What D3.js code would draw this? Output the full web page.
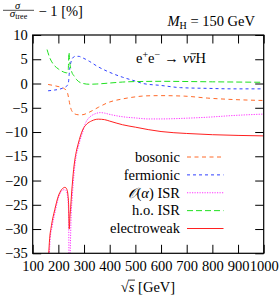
<!DOCTYPE html>
<html>
<head>
<meta charset="utf-8">
<script src="https://cdn.jsdelivr.net/npm/d3@7"></script>
<style>
  body { margin: 0; background: #fff; }
  svg { display: block; font-family: "Liberation Serif", "DejaVu Serif", serif; }
</style>
</head>
<body>
<svg id="chart" width="279" height="296"></svg>
<script>
// sqrt(s) in GeV, correction in percent
var sBosonic  = [160, 185, 205, 220, 230, 236, 240, 245, 252, 265, 280, 292, 317, 356, 395, 448, 500, 540, 600, 690, 780, 880, 1000];
var bosonic   = [-0.2, -0.45, -0.7, -0.95, -1.4, -2.0, -3.0, -4.4, -5.6, -6.3, -6.45, -6.45, -6.0, -4.9, -3.9, -3.2, -2.75, -2.55, -2.5, -2.6, -3.0, -3.3, -3.5];

var sFermionic = [160, 185, 206, 220, 228, 236, 240, 242, 245, 249, 255, 265, 280, 290, 320, 350, 400, 450, 500, 530, 600, 675, 780, 880, 1000];
var fermionic  = [-1.5, -1.35, -1.15, -0.9, -0.7, -0.3, 0.5, 1.8, 3.3, 4.4, 5.2, 5.6, 5.6, 5.4, 4.6, 3.6, 2.3, 1.3, 0.5, 0.0, -0.4, -0.85, -1.0, -1.1, -1.1];

var sIsr1 = [162, 168, 175, 188, 200, 212, 220, 226, 232, 237, 240, 242, 243.5, 246, 250, 254, 258, 264, 270, 278, 284, 296, 304, 317, 330, 345, 363, 380, 395, 450, 500, 550, 600, 650, 700, 780, 880, 1000];
var isr1  = [-40, -32, -29.7, -26.3, -23.6, -22.2, -21.9, -21.9, -22.3, -23.8, -27, -40, -40, -35, -27, -23.5, -20.5, -17, -14.8, -13, -11.8, -9.8, -8.4, -7.2, -6.6, -6.2, -6.0, -6.1, -6.3, -6.85, -7.1, -7.3, -7.3, -7.25, -7.15, -6.95, -6.6, -6.3];

var sIsrHo = [156, 165, 180, 200, 219, 232, 238, 241.5, 244, 248, 252, 262, 271, 285, 297, 320, 350, 400, 450, 500, 600, 800, 1000];
var isrHo  = [7.0, 5.5, 4.0, 3.0, 2.4, 2.2, 2.5, 6.4, 4.5, 3.2, 2.4, 1.5, 0.8, 0.2, 0.0, -0.15, -0.1, 0.1, 0.3, 0.4, 0.45, 0.35, 0.25];

var sEw = [158, 166, 173, 186, 200, 212, 220, 226, 232, 237, 240, 242.5, 245, 248, 251, 254, 258, 264, 270, 278, 286, 296, 310, 330, 356, 380, 400, 450, 500, 550, 600, 700, 800, 900, 1000];
var ew  = [-40, -32, -29.3, -26, -23.2, -21.9, -21.5, -21.4, -21.7, -22.8, -25, -30, -27.5, -25.5, -23, -21, -18.5, -15.8, -14, -12.3, -10.8, -9.4, -8.4, -7.7, -7.35, -7.45, -7.75, -8.5, -9.0, -9.5, -9.9, -10.3, -10.55, -10.7, -10.8];

var legendLabels = ["bosonic", "fermionic", "O(α) ISR", "h.o. ISR", "electroweak"];
var xTicks = [100, 200, 300, 400, 500, 600, 700, 800, 900, 1000];
var yTicks = [10, 5, 0, -5, -10, -15, -20, -25, -30, -35];

var series = [
  {s: sBosonic,  v: bosonic,   color: "#ff6a2a", dash: "4,3.5"},
  {s: sFermionic, v: fermionic, color: "#3040ff", dash: "3,3"},
  {s: sIsr1,     v: isr1,      color: "#ff30ff", dash: "1.2,1.3"},
  {s: sIsrHo,    v: isrHo,     color: "#20e020", dash: "6,3"},
  {s: sEw,       v: ew,        color: "#ff2020", dash: null}
];

var fs = 14.5;
var pLeft = 32.7, pRight = 263.7, pTop = 35, pBottom = 253.3;
var svg = d3.select('#chart');

var x = d3.scaleLinear().domain([100, 1000]).range([pLeft, pRight]);
var y = d3.scaleLinear().domain([-35, 10]).range([pBottom, pTop]);

svg.append('clipPath').attr('id', 'plotclip')
  .append('rect')
    .attr('x', pLeft).attr('y', pTop)
    .attr('width', pRight - pLeft).attr('height', pBottom - pTop);

// ticks point inward on all four sides
svg.append('g')
    .attr('transform', 'translate(0,' + pBottom + ')')
    .call(d3.axisBottom(x).tickValues(xTicks).tickSizeInner(-8.5).tickSizeOuter(0).tickFormat(d3.format('d')))
    .call(g => g.selectAll('text').attr('y', 7.5).attr('dy', '0.71em'));
svg.append('g')
    .attr('transform', 'translate(0,' + pTop + ')')
    .call(d3.axisTop(x).tickValues(xTicks).tickSizeInner(-8.5).tickSizeOuter(0).tickFormat(''));
svg.append('g')
    .attr('transform', 'translate(' + pLeft + ',0)')
    .call(d3.axisLeft(y).tickValues(yTicks).tickSizeInner(-8.5).tickSizeOuter(0))
    .call(g => g.selectAll('text').attr('x', -5));
svg.append('g')
    .attr('transform', 'translate(' + pRight + ',0)')
    .call(d3.axisRight(y).tickValues(yTicks).tickSizeInner(-8.5).tickSizeOuter(0).tickFormat(''));

svg.selectAll('.domain').remove();
svg.selectAll('.tick line').attr('stroke', '#000').attr('stroke-width', 1);
svg.selectAll('.tick text')
    .attr('font-family', '"Liberation Serif", serif')
    .attr('font-size', fs)
    .attr('fill', '#000');

var line = d3.line()
    .x(d => d[0])
    .y(d => d[1])
    .curve(d3.curveMonotoneX);

var plot = svg.append('g').attr('clip-path', 'url(#plotclip)');
series.forEach(function(ser) {
  var pts = ser.s.map((s, i) => [x(s), y(ser.v[i])]);
  plot.append('path')
      .attr('d', line(pts))
      .attr('fill', 'none')
      .attr('stroke', ser.color)
      .attr('stroke-width', 1)
      .attr('stroke-dasharray', ser.dash);
});

svg.append('rect')
    .attr('x', pLeft).attr('y', pTop)
    .attr('width', pRight - pLeft).attr('height', pBottom - pTop)
    .attr('fill', 'none').attr('stroke', '#000').attr('stroke-width', 1.2);

// legend
var legY = d3.scaleLinear().domain([0, 4]).range([157, 228.5]);
var leg = svg.append('g').attr('font-size', fs);
legendLabels.forEach(function(lab, i) {
  var t = leg.append('text')
      .attr('x', 180).attr('y', legY(i)).attr('dy', '0.33em')
      .attr('text-anchor', 'end');
  if (i == 2) {
    t.append('tspan').attr('font-style', 'italic').text('𝒪');
    t.append('tspan').text('(');
    t.append('tspan').attr('font-style', 'italic').text('α');
    t.append('tspan').text(') ISR');
  } else {
    t.text(lab);
  }
  leg.append('line')
      .attr('x1', 187).attr('x2', 223.5)
      .attr('y1', legY(i)).attr('y2', legY(i))
      .attr('stroke', series[i].color)
      .attr('stroke-width', 1)
      .attr('stroke-dasharray', series[i].dash);
});

// y label as a fraction
var ylab = svg.append('g');
ylab.append('text').attr('x', 17.5).attr('y', 8.6).attr('text-anchor', 'middle')
    .attr('font-size', 10.5).attr('font-style', 'italic').text('σ');
ylab.append('line').attr('x1', 3).attr('x2', 34).attr('y1', 10.3).attr('y2', 10.3)
    .attr('stroke', '#000').attr('stroke-width', 0.7);
var den = ylab.append('text').attr('x', 18.5).attr('y', 17.3).attr('text-anchor', 'middle').attr('font-size', 11);
den.append('tspan').attr('font-style', 'italic').text('σ');
den.append('tspan').attr('font-size', 8).attr('dy', 1.5).text('tree');
ylab.append('text').attr('x', 38.5).attr('y', 15.8).attr('font-size', fs).text('− 1 [%]');

var mh = svg.append('text').attr('x', 255).attr('y', 26).attr('text-anchor', 'end').attr('font-size', fs);
mh.append('tspan').attr('font-style', 'italic').text('M');
mh.append('tspan').attr('font-size', 10).attr('dy', 2.5).text('H');
mh.append('tspan').attr('dy', -2.5).text(' = 150 GeV');

var proc = svg.append('text').attr('x', 136).attr('y', 63).attr('font-size', fs);
proc.append('tspan').text('e');
proc.append('tspan').attr('font-size', 10).attr('dy', -5.5).text('+');
proc.append('tspan').attr('dy', 5.5).text('e');
proc.append('tspan').attr('font-size', 10).attr('dy', -5.5).text('−');
proc.append('tspan').attr('dy', 5.5).attr('dx', 4).text('→');
proc.append('tspan').attr('dx', 4).attr('font-style', 'italic').text('ν');
proc.append('tspan').attr('font-style', 'italic').text('ν');
proc.append('tspan').text('H');
// bar over the antineutrino
var nb = proc.node().getExtentOfChar(6);
svg.append('line')
    .attr('x1', nb.x + 1.5).attr('x2', nb.x + nb.width + 0.5)
    .attr('y1', 63 - 9.3).attr('y2', 63 - 9.3)
    .attr('stroke', '#000').attr('stroke-width', 0.8);

var xl = svg.append('text').attr('x', 148).attr('y', 291.5).attr('text-anchor', 'middle').attr('font-size', fs);
xl.append('tspan').text('√');
xl.append('tspan').attr('font-style', 'italic').text('s');
xl.append('tspan').text(' [GeV]');
var rt = xl.node().getExtentOfChar(0), sc = xl.node().getExtentOfChar(1);
svg.append('line')
    .attr('x1', rt.x + rt.width - 0.8).attr('x2', sc.x + sc.width + 0.5)
    .attr('y1', rt.y + 1.6).attr('y2', rt.y + 1.6)
    .attr('stroke', '#000').attr('stroke-width', 0.8);
</script>
</body>
</html>
